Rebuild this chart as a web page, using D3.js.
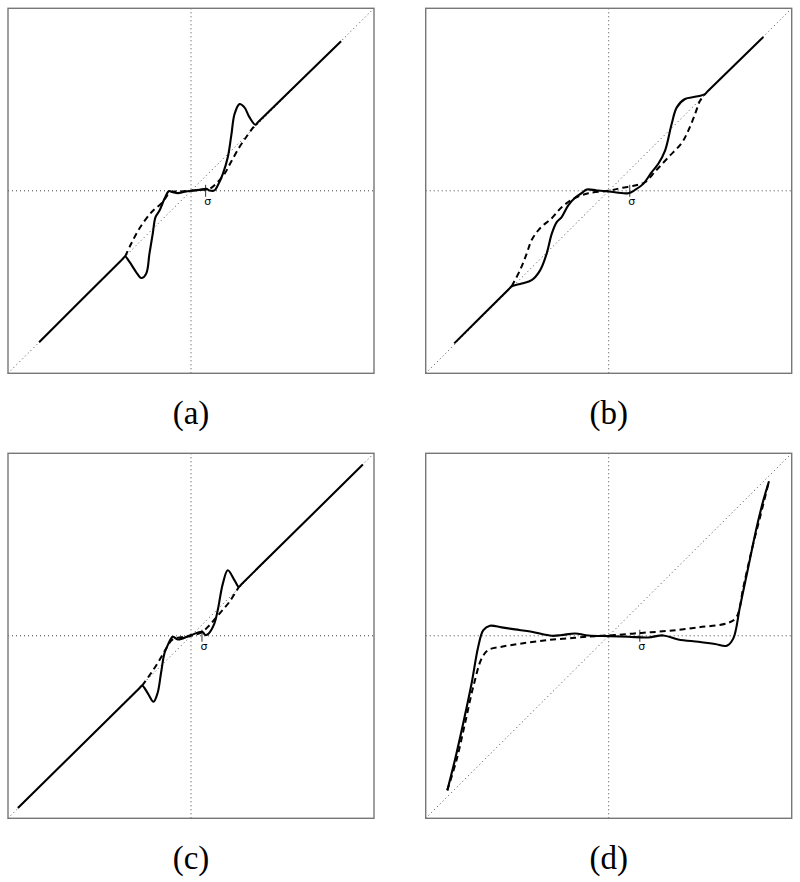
<!DOCTYPE html>
<html>
<head>
<meta charset="utf-8">
<script src="https://cdn.jsdelivr.net/npm/d3@7"></script>
<style>
  html, body { margin: 0; padding: 0; background: #fff; }
  svg { display: block; }
</style>
</head>
<body>
<script>
// ---------- DATA (x, y in normalized units, box spans -1..1) ----------
const panelLabels = ["(a)", "(b)", "(c)", "(d)"];
const sigmaValues = [0.08, 0.115, 0.06, 0.17];

const solidA = [[-0.83,-0.83],[-0.375,-0.375],[-0.36,-0.36],[-0.336,-0.39],[-0.30,-0.445],[-0.272,-0.478],[-0.245,-0.454],[-0.227,-0.344],[-0.209,-0.235],[-0.194,-0.144],[-0.172,-0.108],[-0.145,-0.044],[-0.121,-0.002],[-0.099,-0.008],[-0.072,-0.013],[-0.026,-0.004],[0.046,0.005],[0.083,0.011],[0.101,0.002],[0.128,0.002],[0.146,0.029],[0.174,0.093],[0.201,0.184],[0.22,0.302],[0.238,0.421],[0.265,0.475],[0.292,0.457],[0.32,0.402],[0.352,0.362],[0.367,0.377],[0.82,0.82]];
const dashedA = [[-0.36,-0.36],[-0.327,-0.29],[-0.281,-0.205],[-0.227,-0.13],[-0.199,-0.10],[-0.163,-0.071],[-0.136,-0.035],[-0.117,-0.008],[-0.063,-0.004],[0.046,0.004],[0.101,0.011],[0.138,0.04],[0.183,0.093],[0.22,0.16],[0.265,0.24],[0.302,0.295],[0.338,0.345],[0.352,0.362]];

const solidB = [[-0.844,-0.836],[-0.545,-0.538],[-0.53,-0.523],[-0.475,-0.508],[-0.421,-0.49],[-0.375,-0.436],[-0.339,-0.344],[-0.311,-0.235],[-0.284,-0.172],[-0.257,-0.144],[-0.221,-0.08],[-0.184,-0.038],[-0.148,-0.013],[-0.12,0.007],[-0.066,0.002],[0,-0.004],[0.107,-0.013],[0.144,0.005],[0.189,0.038],[0.235,0.102],[0.271,0.148],[0.308,0.22],[0.344,0.366],[0.372,0.457],[0.417,0.503],[0.472,0.515],[0.526,0.53],[0.541,0.545],[0.845,0.843]];
const dashedB = [[-0.53,-0.523],[-0.485,-0.436],[-0.448,-0.344],[-0.421,-0.27],[-0.375,-0.205],[-0.311,-0.15],[-0.257,-0.09],[-0.193,-0.044],[-0.111,-0.013],[0,0],[0.071,0.016],[0.144,0.029],[0.198,0.047],[0.253,0.105],[0.326,0.184],[0.399,0.262],[0.435,0.33],[0.472,0.421],[0.499,0.493],[0.526,0.53]];

const solidC = [[-0.946,-0.943],[-0.282,-0.288],[-0.267,-0.273],[-0.236,-0.315],[-0.205,-0.361],[-0.183,-0.315],[-0.164,-0.205],[-0.145,-0.096],[-0.127,-0.051],[-0.10,-0.005],[-0.072,-0.02],[0,0.004],[0.061,0.022],[0.079,0.004],[0.097,0.013],[0.128,0.068],[0.146,0.14],[0.174,0.286],[0.201,0.359],[0.238,0.304],[0.261,0.268],[0.276,0.283],[0.939,0.938]];
const dashedC = [[-0.267,-0.273],[-0.215,-0.2],[-0.172,-0.133],[-0.135,-0.069],[-0.1,-0.02],[0,0],[0.06,0.02],[0.101,0.058],[0.156,0.122],[0.21,0.186],[0.261,0.268]];

const solidD = [[-0.882,-0.847],[-0.84,-0.679],[-0.795,-0.479],[-0.749,-0.26],[-0.713,-0.06],[-0.685,0.031],[-0.649,0.055],[-0.585,0.046],[-0.512,0.035],[-0.421,0.022],[-0.311,0],[-0.257,0.004],[-0.184,0.013],[-0.111,0.002],[0,-0.002],[0.107,-0.005],[0.216,-0.009],[0.298,0.002],[0.38,-0.02],[0.49,-0.033],[0.581,-0.045],[0.645,-0.055],[0.681,-0.014],[0.717,0.158],[0.763,0.377],[0.809,0.596],[0.845,0.742],[0.876,0.847]];
const dashedD = [[-0.882,-0.847],[-0.831,-0.679],[-0.785,-0.479],[-0.74,-0.279],[-0.694,-0.124],[-0.658,-0.078],[-0.585,-0.06],[-0.475,-0.042],[-0.33,-0.023],[-0.184,-0.011],[-0.075,-0.002],[0.034,0.004],[0.18,0.016],[0.326,0.027],[0.49,0.046],[0.654,0.071],[0.699,0.104],[0.736,0.268],[0.781,0.468],[0.827,0.65],[0.876,0.847]];

const solidSeries = [solidA, solidB, solidC, solidD];
const dashedSeries = [dashedA, dashedB, dashedC, dashedD];

// ---------- LAYOUT ----------
const W = 800, H = 882;
const boxW = 366, boxH = 365;
const lefts = [8, 425.7, 8, 425.7];
const tops = [8.3, 8.3, 453.3, 453.3];

const svg = d3.select("body").append("svg")
  .attr("width", W).attr("height", H)
  .style("background", "#fff");

panelLabels.forEach((lab, i) => {
  const x = d3.scaleLinear().domain([-1, 1]).range([0, boxW]);
  const y = d3.scaleLinear().domain([-1, 1]).range([boxH, 0]);
  const g = svg.append("g").attr("transform", `translate(${lefts[i]},${tops[i]})`);

  const dotStyle = sel => sel.attr("stroke", "#444").attr("stroke-width", 1)
    .attr("stroke-dasharray", "1,3").attr("fill", "none");

  // axes through the origin
  g.append("line").attr("x1", x(0)).attr("x2", x(0)).attr("y1", 0).attr("y2", boxH).call(dotStyle);
  g.append("line").attr("x1", 0).attr("x2", boxW).attr("y1", y(0)).attr("y2", y(0)).call(dotStyle);
  // identity diagonal
  g.append("line").attr("x1", x(-1)).attr("y1", y(-1)).attr("x2", x(1)).attr("y2", y(1)).call(dotStyle);

  const line = d3.line().x(d => x(d[0])).y(d => y(d[1])).curve(d3.curveCatmullRom.alpha(0.5));

  g.append("path").datum(dashedSeries[i]).attr("d", line)
    .attr("fill", "none").attr("stroke", "#000").attr("stroke-width", 2)
    .attr("stroke-dasharray", "6,4");
  g.append("path").datum(solidSeries[i]).attr("d", line)
    .attr("fill", "none").attr("stroke", "#000").attr("stroke-width", 2.1)
    .attr("stroke-linejoin", "round");

  // sigma tick + label
  const s = sigmaValues[i];
  g.append("line").attr("x1", x(s)).attr("x2", x(s)).attr("y1", y(0) - 6).attr("y2", y(0) + 6)
    .attr("stroke", "#000").attr("stroke-width", 0.8);
  g.append("text").attr("x", x(s) + 2).attr("y", y(0) + 14)
    .attr("text-anchor", "middle").attr("font-family", "DejaVu Sans, sans-serif")
    .attr("font-size", 11).attr("fill", "#000").text("σ");

  // frame
  g.append("rect").attr("x", 0).attr("y", 0).attr("width", boxW).attr("height", boxH)
    .attr("fill", "none").attr("stroke", "#777").attr("stroke-width", 1.4);

  // panel label
  svg.append("text").attr("x", lefts[i] + boxW / 2).attr("y", tops[i] + boxH + 51)
    .attr("text-anchor", "middle").attr("font-family", "Liberation Serif, Times New Roman, serif")
    .attr("font-size", 33).attr("fill", "#000").text(lab);
});
</script>
</body>
</html>
